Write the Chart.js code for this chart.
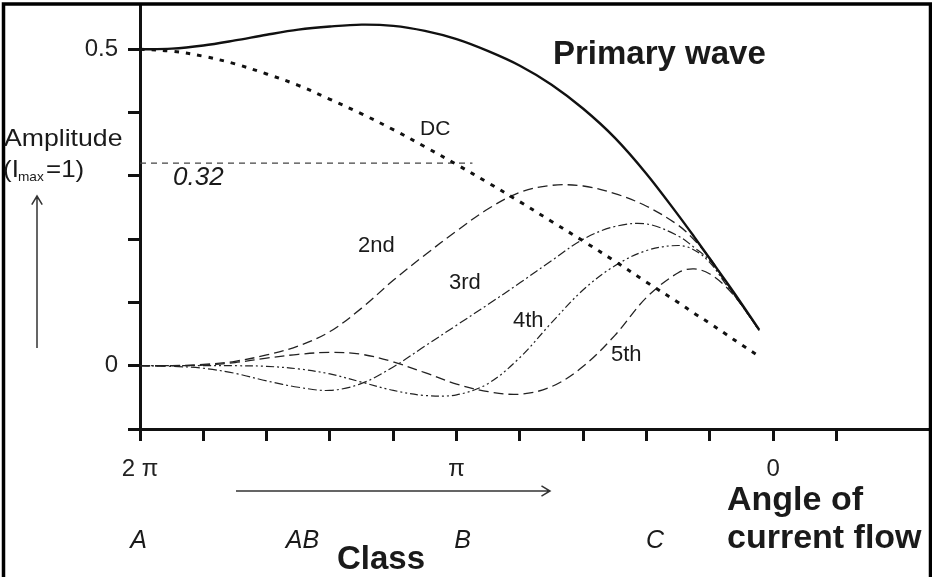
<!DOCTYPE html>
<html>
<head>
<meta charset="utf-8">
<script src="https://cdn.jsdelivr.net/npm/chart.js@4"></script>
<style>
  html, body { margin: 0; padding: 0; background: #fff; }
  #wrap { width: 932px; height: 577px; position: relative; }
</style>
</head>
<body>
<div id="wrap"><canvas id="chartAmplitude"></canvas></div>
<script>
// ====== CURRENT FLOW ANGLE vs HARMONIC AMPLITUDE ======

// Angle of current flow (degrees), 2π on the left down to 0
const angles = [360, 342, 324, 306, 288, 270, 252, 234, 216, 198, 180, 162, 144, 126, 108, 90, 72, 54, 45, 36, 27, 18, 8];

// Amplitudes (Imax = 1)
const primary = [0.500, 0.501, 0.506, 0.514, 0.523, 0.531, 0.536, 0.539, 0.537, 0.529, 0.516, 0.497, 0.474, 0.444, 0.406, 0.360, 0.303, 0.238, 0.204, 0.169, 0.134, 0.098, 0.057];
const dc = [0.500, 0.497, 0.489, 0.477, 0.461, 0.443, 0.421, 0.398, 0.373, 0.346, 0.318, 0.289, 0.259, 0.228, 0.197, 0.165, 0.132, 0.100, 0.083, 0.067, 0.050, 0.033, 0.015];
const second = [0, 0.000, 0.002, 0.007, 0.017, 0.031, 0.054, 0.091, 0.135, 0.175, 0.213, 0.248, 0.274, 0.285, 0.284, 0.272, 0.252, 0.222, 0.199, 0.170, 0.133, 0.096, 0.056];
const third = [0, -0.001, -0.004, -0.012, -0.024, -0.034, -0.039, -0.028, -0.002, 0.031, 0.064, 0.097, 0.131, 0.166, 0.200, 0.220, 0.224, 0.205, 0.187, 0.166, 0.131, 0.096, 0.056];
const fourth = [0, 0.000, 0.000, 0.000, -0.001, -0.005, -0.013, -0.026, -0.039, -0.047, -0.046, -0.028, 0.013, 0.068, 0.120, 0.158, 0.182, 0.190, 0.183, 0.163, 0.129, 0.096, 0.056];
const fifth = [0, 0.000, 0.001, 0.005, 0.012, 0.018, 0.021, 0.018, 0.006, -0.011, -0.029, -0.041, -0.045, -0.033, -0.001, 0.048, 0.108, 0.147, 0.153, 0.145, 0.125, 0.096, 0.056];

// Reference line for DC at π
const refValue = 0.32;
const refFrom = 360;
const refTo = 171;

// Axis ticks
const xTicks = [360, 324, 288, 252, 216, 180, 144, 108, 72, 36, 0, -36];
const xTickLabels = { 360: "2 π", 180: "π", 0: "0" };
const yTicks = [-0.1, 0, 0.1, 0.2, 0.3, 0.4, 0.5];
const yTickLabels = ["", "0", "", "", "", "", "0.5"];

const ink = "#1a1a1a";

function toPoints(values) {
  return angles.map((a, i) => ({ x: a, y: values[i] }));
}

function curve(values, dash, width, color) {
  return {
    data: toPoints(values),
    borderColor: color,
    borderWidth: width,
    borderDash: dash,
    pointRadius: 0,
    fill: false,
    tension: 0.35,
  };
}

// ========================
// === TEXT & ARROWS ===
// ========================

function writeText(ctx, text, x, y, font, align, sx) {
  ctx.save();
  ctx.font = font;
  ctx.fillStyle = ink;
  ctx.textAlign = align || "left";
  ctx.textBaseline = "alphabetic";
  ctx.translate(x, y);
  ctx.scale(sx || 1, 1);
  ctx.fillText(text, 0, 0);
  ctx.restore();
}

function arrow(ctx, x1, y1, x2, y2) {
  const ang = Math.atan2(y2 - y1, x2 - x1);
  const head = 10;
  ctx.save();
  ctx.strokeStyle = "#333";
  ctx.lineWidth = 1.5;
  ctx.beginPath();
  ctx.moveTo(x1, y1);
  ctx.lineTo(x2, y2);
  ctx.moveTo(x2 - head * Math.cos(ang - 0.55), y2 - head * Math.sin(ang - 0.55));
  ctx.lineTo(x2, y2);
  ctx.lineTo(x2 - head * Math.cos(ang + 0.55), y2 - head * Math.sin(ang + 0.55));
  ctx.stroke();
  ctx.restore();
}

const decorations = {
  id: "decorations",
  afterDraw(chart) {
    const ctx = chart.ctx;

    // frame
    ctx.save();
    ctx.strokeStyle = "#000";
    ctx.lineWidth = 3.5;
    ctx.beginPath();
    ctx.moveTo(3.5, 577);
    ctx.lineTo(3.5, 4);
    ctx.lineTo(930.5, 4);
    ctx.lineTo(930.5, 577);
    ctx.stroke();
    ctx.restore();

    // y axis title
    writeText(ctx, "Amplitude", 4, 146, "24px 'Liberation Sans'", "left", 1.11);
    writeText(ctx, "(I", 3, 177, "24px 'Liberation Sans'", "left", 1.08);
    writeText(ctx, "max", 18, 181, "13px 'Liberation Sans'", "left", 1.05);
    writeText(ctx, "=1)", 46, 177, "24px 'Liberation Sans'", "left", 1.08);
    arrow(ctx, 37, 348, 37, 196);

    // curve labels
    writeText(ctx, "Primary wave", 553, 64, "bold 33px 'Liberation Sans'");
    writeText(ctx, "DC", 420, 135, "21px 'Liberation Sans'");
    writeText(ctx, "0.32", 173, 185, "italic 26px 'Liberation Sans'");
    writeText(ctx, "2nd", 358, 252, "22px 'Liberation Sans'");
    writeText(ctx, "3rd", 449, 289, "22px 'Liberation Sans'");
    writeText(ctx, "4th", 513, 327, "22px 'Liberation Sans'");
    writeText(ctx, "5th", 611, 361, "22px 'Liberation Sans'");

    // class labels
    arrow(ctx, 236, 491, 550, 491);
    writeText(ctx, "A", 138.5, 548, "italic 25px 'Liberation Sans'", "center");
    writeText(ctx, "AB", 302.5, 548, "italic 25px 'Liberation Sans'", "center");
    writeText(ctx, "B", 462.5, 548, "italic 25px 'Liberation Sans'", "center");
    writeText(ctx, "C", 655, 548, "italic 25px 'Liberation Sans'", "center");
    writeText(ctx, "Class", 381, 569, "bold 33px 'Liberation Sans'", "center");

    // x axis title
    writeText(ctx, "Angle of", 727, 510, "bold 34px 'Liberation Sans'");
    writeText(ctx, "current flow", 727, 548, "bold 34px 'Liberation Sans'");
  },
};

// ========================
// === CHART ===
// ========================

const ctx = document.getElementById("chartAmplitude").getContext("2d");
new Chart(ctx, {
  type: "line",
  data: {
    datasets: [
      curve(primary, [], 2.4, "#111"),
      curve(dc, [4.5, 7], 3, "#111"),
      curve(second, [10, 5], 1.3, "#222"),
      curve(third, [9, 3, 2, 3], 1.2, "#222"),
      curve(fourth, [8, 3, 2, 3, 2, 3], 1.2, "#222"),
      curve(fifth, [10, 5], 1.3, "#222"),
      {
        data: [{ x: refFrom, y: refValue }, { x: refTo, y: refValue }],
        borderColor: "#444",
        borderWidth: 1.3,
        borderDash: [6, 5],
        pointRadius: 0,
        fill: false,
      },
    ],
  },
  options: {
    animation: false,
    responsive: true,
    maintainAspectRatio: false,
    layout: { padding: { top: 5, right: 4, left: 0, bottom: 0 } },
    plugins: {
      legend: { display: false },
      tooltip: { enabled: false },
    },
    scales: {
      x: {
        type: "linear",
        reverse: true,
        min: -88,
        max: 360,
        afterBuildTicks: (s) => { s.ticks = xTicks.map((v) => ({ value: v })); },
        afterFit: (s) => { s.height = 148; s.paddingLeft = 0; s.paddingRight = 0; },
        grid: { drawOnChartArea: false, drawTicks: true, tickLength: 12, tickWidth: 3, tickColor: "#111" },
        border: { display: true, color: "#111", width: 3 },
        ticks: {
          autoSkip: false,
          maxRotation: 0,
          padding: 14,
          color: "#222",
          font: { family: "Liberation Sans", size: 24 },
          callback: (v) => xTickLabels[v] || "",
        },
      },
      y: {
        min: -0.1,
        max: 0.57,
        afterBuildTicks: (s) => { s.ticks = yTicks.map((v) => ({ value: v })); },
        afterFit: (s) => { s.width = 140; s.paddingTop = 0; s.paddingBottom = 0; },
        grid: { drawOnChartArea: false, drawTicks: true, tickLength: 12, tickWidth: 3, tickColor: "#111" },
        border: { display: true, color: "#111", width: 3 },
        ticks: {
          padding: 10,
          color: "#222",
          font: { family: "Liberation Sans", size: 24 },
          callback: (v, i) => yTickLabels[i],
        },
      },
    },
  },
  plugins: [decorations],
});
</script>
</body>
</html>
